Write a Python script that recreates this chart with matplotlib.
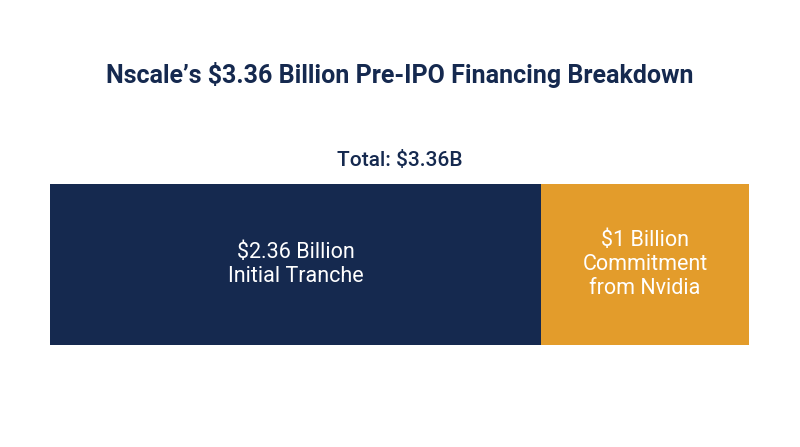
import matplotlib
matplotlib.use("Agg")
import matplotlib.pyplot as plt

segments = ["$2.36 Billion\nInitial Tranche", "$1 Billion\nCommitment\nfrom Nvidia"]
values = [2.36, 1.0]
colors = ["#15294F", "#E39C2B"]
title = "Nscale’s $3.36 Billion Pre-IPO Financing Breakdown"
total_label = "Total: $3.36B"

plt.rcParams['font.family'] = ['Roboto', 'DejaVu Sans']
fig = plt.figure(figsize=(8, 4.47), dpi=100)
fig.patch.set_facecolor("white")
ax = fig.add_axes([50/800, 1-345/447, 699/800, 161/447])
left = 0
for lab, v, c in zip(segments, values, colors):
    ax.barh(0, v, left=left, color=c, height=1, edgecolor="none")
    ax.text(left + v/2, 0, lab, ha="center", va="center", color="white", fontsize=15.5, linespacing=1.2)
    left += v
ax.set_xlim(0, sum(values))
ax.set_ylim(-0.5, 0.5)
ax.axis("off")
fig.text(0.5, 1-75/447, title, ha="center", va="center", fontsize=18, fontweight="bold", color="#15294F")
fig.text(0.5, 1-160/447, total_label, ha="center", va="center", fontsize=15, fontweight="medium", color="#15294F")
fig.savefig("out.png", dpi=100, facecolor="white")
